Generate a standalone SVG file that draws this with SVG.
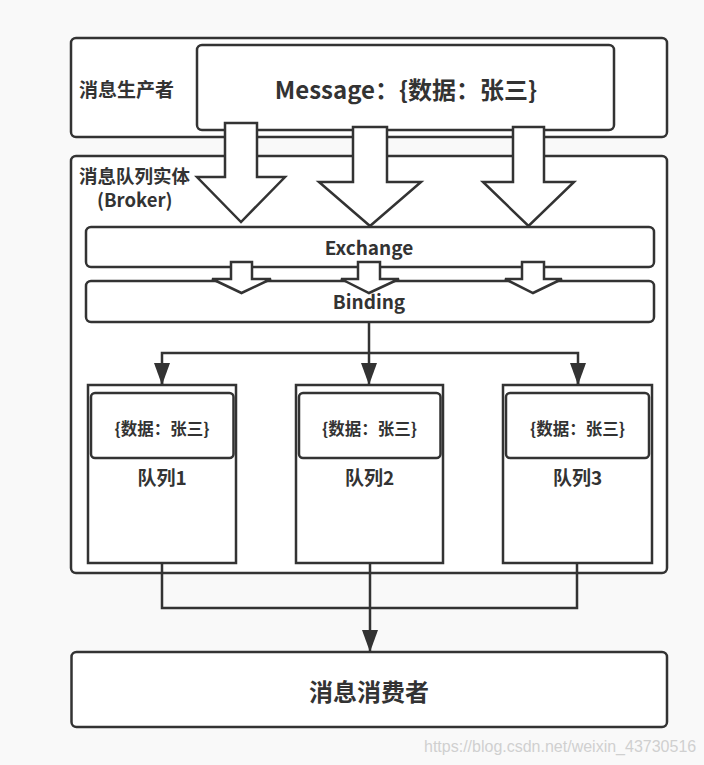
<svg xmlns="http://www.w3.org/2000/svg" width="704" height="765" viewBox="0 0 704 765">
<style>
.box{fill:#ffffff;stroke:#333333;stroke-width:2.5}
.blk{fill:#ffffff;stroke:#333333;stroke-width:2.5;stroke-linejoin:miter}
.ln{fill:none;stroke:#333333;stroke-width:2.5}
.t{font-family:"Noto Sans CJK SC","Noto Sans",sans-serif;font-weight:bold;fill:#333333;dominant-baseline:central}
.c{text-anchor:middle}
</style>
<defs>
<marker id="ah" viewBox="0 0 22 16" refX="22" refY="8" markerWidth="22" markerHeight="16" markerUnits="userSpaceOnUse" orient="auto">
<path d="M0,0 L22,8 L0,16 z" fill="#333333"/>
</marker>
</defs>
<rect x="0" y="0" width="704" height="765" fill="#f9f9f9"/>
<g id="producer">
<rect class="box" x="71" y="38" width="596" height="99" rx="5"/>
<text class="t" x="79" y="88" font-size="19">消息生产者</text>
</g>
<g id="message">
<rect class="box" x="197" y="45" width="417" height="85" rx="5"/>
<text class="t c" x="406" y="88" font-size="24">Message：{数据：张三}</text>
</g>
<g id="broker">
<rect class="box" x="71" y="156" width="596" height="417" rx="5"/>
<text class="t" x="79" y="175" font-size="18.5">消息队列实体</text>
<text class="t" x="97" y="199" font-size="18.5">(Broker)</text>
</g>
<g id="exchange">
<rect class="box" x="86" y="227" width="568" height="40" rx="5"/>
<text class="t c" x="369" y="246" font-size="19">Exchange</text>
</g>
<g id="binding">
<rect class="box" x="86" y="281" width="568" height="41" rx="5"/>
<text class="t c" x="369" y="300" font-size="19">Binding</text>
</g>
<g id="queue1">
<rect class="box" x="88" y="385" width="148" height="178"/>
<rect class="box" x="91" y="393" width="142.5" height="65" rx="4"/>
<text class="t c" x="162" y="428" font-size="16.5">{数据：张三}</text>
<text class="t c" x="162" y="476" font-size="19">队列1</text>
</g>
<g id="queue2">
<rect class="box" x="296" y="385" width="147" height="178"/>
<rect class="box" x="299" y="393" width="141.5" height="65" rx="4"/>
<text class="t c" x="369.5" y="428" font-size="16.5">{数据：张三}</text>
<text class="t c" x="369.5" y="476" font-size="19">队列2</text>
</g>
<g id="queue3">
<rect class="box" x="503" y="385" width="149" height="178"/>
<rect class="box" x="506" y="393" width="143" height="65" rx="4"/>
<text class="t c" x="577.5" y="428" font-size="16.5">{数据：张三}</text>
<text class="t c" x="577.5" y="476" font-size="19">队列3</text>
</g>
<g id="consumer">
<rect class="box" x="71.5" y="652" width="595.5" height="75" rx="5"/>
<text class="t c" x="369" y="690" font-size="24">消息消费者</text>
</g>
<g id="connectors">
<polygon class="blk" points="225,123 257,123 257,177 285,177 241,222 197,177 225,177"/>
<polygon class="blk" points="353,127 387,127 387,182 421,182 370,226 319,182 353,182"/>
<polygon class="blk" points="513,127 544,127 544,182 574,182 528.5,226 483,182 513,182"/>
<polygon class="blk" points="231,262 252,262 252,279 271,279 241.5,293 212,279 231,279"/>
<polygon class="blk" points="358,262 380,262 380,279 399,279 369,293 341,279 358,279"/>
<polygon class="blk" points="522,262 544,262 544,279 562,279 533,293 505,279 522,279"/>
<line class="ln" x1="369" y1="322" x2="369" y2="385" marker-end="url(#ah)"/>
<polyline class="ln" points="162,385 162,353 578,353 578,385"/>
<line class="ln" x1="162" y1="370" x2="162" y2="385" marker-end="url(#ah)"/>
<line class="ln" x1="578" y1="370" x2="578" y2="385" marker-end="url(#ah)"/>
<polyline class="ln" points="162,563 162,608 577,608 577,563"/>
<line class="ln" x1="370" y1="563" x2="370" y2="652" marker-end="url(#ah)"/>
</g>
<text x="424" y="752" font-family="Liberation Sans,Arial,sans-serif" font-size="16" fill="#d0d0d0">https://blog.csdn.net/weixin_43730516</text>
</svg>
